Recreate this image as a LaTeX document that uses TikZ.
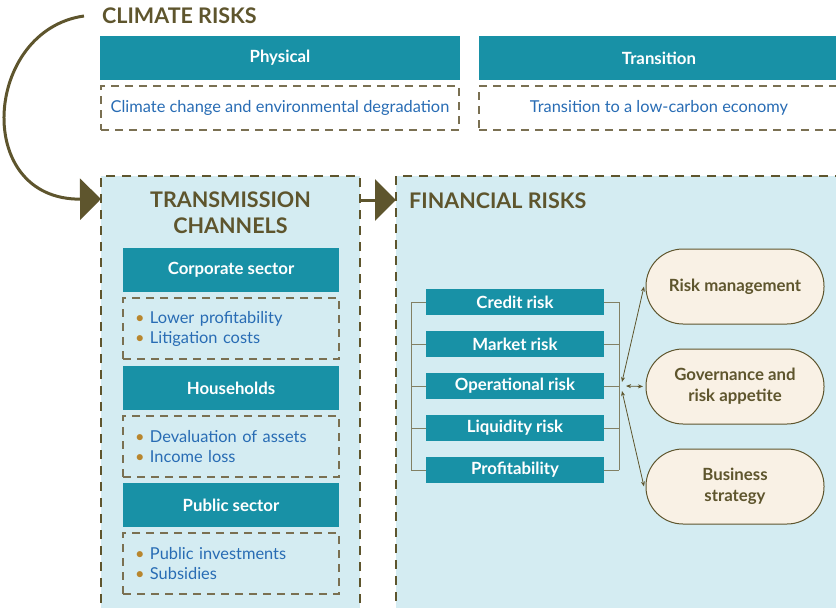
\documentclass[tikz,border=0pt]{standalone}
\usepackage{fontspec}
\setmainfont{Lato}
\usetikzlibrary{positioning,arrows.meta}
\definecolor{tealc}{RGB}{24,145,166}
\definecolor{panelc}{RGB}{212,236,242}
\definecolor{olivec}{RGB}{94,85,45}
\definecolor{dashc}{RGB}{122,112,82}
\definecolor{bluetxt}{RGB}{40,108,180}
\definecolor{goldc}{RGB}{184,134,46}
\definecolor{pillc}{RGB}{249,241,229}
\definecolor{linkc}{RGB}{130,128,100}
\newcommand{\bul}{\textcolor{goldc}{\textbullet}\ }
\tikzset{
  head/.style={font=\fontsize{21.5}{26}\selectfont\bfseries, text=olivec, inner sep=2pt},
  tealbox/.style={fill=tealc, text=white, font=\fontsize{16.8}{18}\selectfont\bfseries, minimum height=44pt, inner sep=0pt, outer sep=0pt},
  dashbox/.style={draw=dashc, dash pattern=on 8pt off 6pt, line width=1.2pt, text=bluetxt, font=\fontsize{16.4}{20}\selectfont, minimum width=358pt, minimum height=44pt, inner sep=0pt, outer sep=0pt},
  listbox/.style={dashbox, minimum width=216pt, minimum height=61pt, text width=192pt, inner xsep=12pt, align=left},
  panel/.style={draw=olivec, dash pattern=on 9pt off 7pt, line width=1.2pt, fill=panelc, minimum height=440pt, anchor=north west, outer sep=0pt},
  riskbox/.style={fill=tealc, text=white, font=\fontsize{16.8}{18}\selectfont\bfseries, minimum width=178pt, minimum height=26pt, inner sep=0pt, outer sep=0pt},
  pill/.style={draw=olivec, line width=1pt, fill=pillc, rounded corners=37pt, minimum width=178pt, minimum height=75pt, text=olivec, font=\fontsize{16.8}{21}\selectfont\bfseries, align=center, outer sep=0pt},
  bigarrow/.style={-{Triangle[length=21pt,width=41pt]}, line width=3pt, draw=olivec},
  bracket/.style={draw=linkc, line width=1pt},
  link/.style={{Stealth[length=5pt,width=4pt]}-{Stealth[length=5pt,width=4pt]}, draw=olivec, line width=0.8pt},
}

\begin{document}
\begin{tikzpicture}[x=1pt, y=-1pt]
\clip (0,0) rectangle (836,608);
% climate risks
\node[head, anchor=west] (climate) at (100,16) {CLIMATE RISKS};
\node[tealbox, minimum width=360pt, anchor=north west] (phys) at (100,36) {Physical};
\node[tealbox, minimum width=360pt, anchor=north west] (trans) at (479,36) {Transition};
\node[dashbox, below=6pt of phys] (physd) {Climate change and environmental degradation};
\node[dashbox, minimum width=360pt, below=6pt of trans] (transd) {Transition to a low-carbon economy};
% panels
\node[panel, minimum width=259pt] (chan) at (101,176) {};
\node[panel, minimum width=460pt] (fin) at (396,176) {};
\node[head, align=center, below=14pt of chan.north] (chantitle) {TRANSMISSION\\CHANNELS};
\node[head, anchor=north west] (fintitle) at ([xshift=11pt,yshift=-15pt]fin.north west) {FINANCIAL RISKS};
\draw[bigarrow] ([xshift=-16pt]climate.west) .. controls (-16,30) and (-28,200) .. ([yshift=-23pt]chan.north west);
\draw[bigarrow] ([yshift=-24pt]chan.north east) -- ([yshift=-24pt]fin.north west);
% transmission channels
\node[tealbox, minimum width=216pt, anchor=north west] (corp) at (123,248) {Corporate sector};
\node[listbox, below=6pt of corp] (corpl) {\bul Lower profitability\\\bul Litigation costs};
\node[tealbox, minimum width=216pt, below=7pt of corpl] (house) {Households};
\node[listbox, below=6pt of house] (housel) {\bul Devaluation of assets\\\bul Income loss};
\node[tealbox, minimum width=216pt, below=6pt of housel] (pub) {Public sector};
\node[listbox, below=6pt of pub] (publ) {\bul Public investments\\\bul Subsidies};
% financial risks
\node[riskbox, anchor=north west] (credit) at (426,289) {Credit risk};
\node[riskbox, below=16pt of credit] (market) {Market risk};
\node[riskbox, below=16pt of market] (oper) {Operational risk};
\node[riskbox, below=16pt of oper] (liquid) {Liquidity risk};
\node[riskbox, below=16pt of liquid] (profit) {Profitability};
\foreach \r in {credit,market,oper,liquid,profit} {
  \draw[bracket] (\r.west) -- ++(-15,0);
  \draw[bracket] (\r.east) -- ++(15,0);
}
\draw[bracket] ([xshift=-15pt]credit.west) -- ([xshift=-15pt]profit.west);
\draw[bracket] ([xshift=15pt]credit.east) -- ([xshift=15pt]profit.east);
% outcomes
\node[pill] (riskm) at (735,286.5) {Risk management};
\node[pill, below=25pt of riskm] (gov) {Governance and\\risk appetite};
\node[pill, below=25pt of gov] (biz) {Business\\strategy};
\coordinate (hub) at ([xshift=18pt]oper.east);
\draw[link] ([yshift=4pt]hub) -- ([xshift=-2pt]riskm.west);
\draw[link] ([xshift=4pt]hub) -- ([xshift=-3pt]gov.west);
\draw[link] ([yshift=-5pt]hub) -- ([xshift=-2pt]biz.west);
\end{tikzpicture}
\end{document}
